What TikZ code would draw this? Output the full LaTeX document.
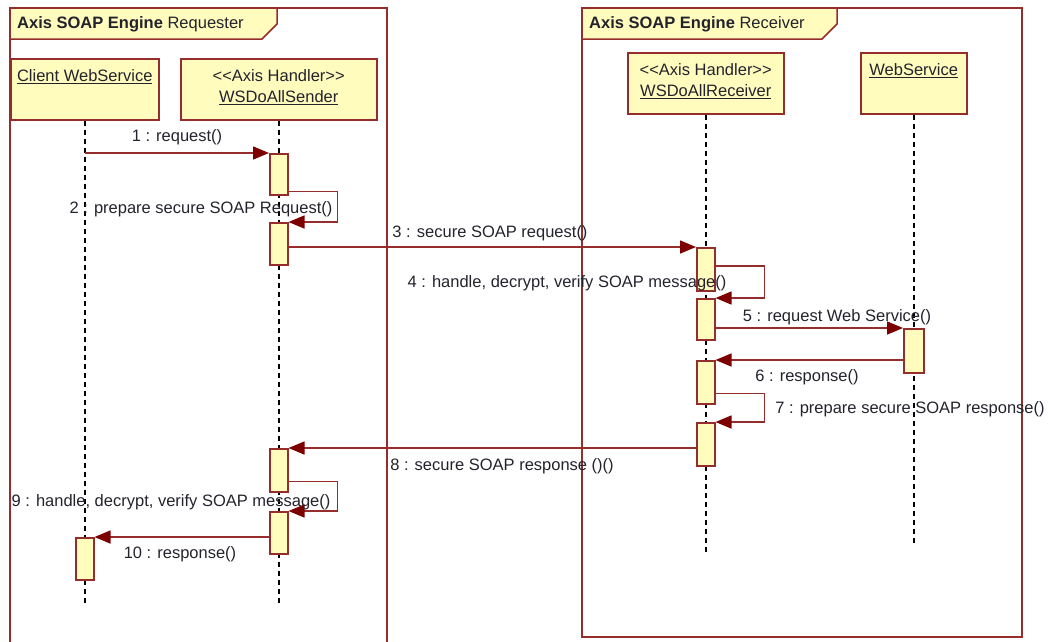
\documentclass[tikz,border=0pt]{standalone}
\usepackage{fontspec}
\newfontfamily\umlfont{Liberation Sans}
\usetikzlibrary{arrows.meta,calc}
\definecolor{umlred}{RGB}{150,45,45}
\definecolor{tipred}{RGB}{125,0,0}
\definecolor{umlfill}{RGB}{255,252,190}
\definecolor{txt}{RGB}{35,35,45}
\begin{document}
\begin{tikzpicture}[x=1pt,y=-1pt,
  font=\umlfont\fontsize{16.5}{21}\selectfont,
  frameline/.style={draw=umlred,line width=1.5pt},
  tabshape/.style={draw=umlred,fill=umlfill,line width=1.5pt},
  headbox/.style={draw=umlred,fill=umlfill,line width=1.5pt,rectangle,inner sep=0pt,anchor=north west},
  headtext/.style={text=txt,align=center,anchor=north,inner sep=0pt},
  actbox/.style={draw=umlred,fill=umlfill,line width=1.5pt,rectangle,inner sep=0pt,minimum width=18pt,anchor=north},
  lifeline/.style={draw=black,line width=1.6pt,dash pattern=on 5pt off 4pt},
  msg/.style={draw=umlred,line width=1.5pt,-{Triangle[length=16pt,width=13pt,fill=tipred,color=tipred]}},
  lbl/.style={text=txt,inner sep=0pt}]
\useasboundingbox (0,0) rectangle (1051,641);
\clip (0,0) rectangle (1051,641);
% frames
\draw[frameline] (10,660) -- (10,8) -- (387,8) -- (387,660);
\draw[frameline] (582,8) rectangle (1022,637);
\draw[tabshape] (10,8) -- (277,8) -- (277,24) -- (262,39) -- (10,39) -- cycle;
\draw[tabshape] (582,8) -- (837,8) -- (837,24) -- (822,39) -- (582,39) -- cycle;
\node[lbl,anchor=west] (tabL) at (17,24) {\bfseries Axis SOAP Engine\mdseries\ Requester};
\node[lbl,anchor=west] (tabR) at (589,24) {\bfseries Axis SOAP Engine\mdseries\ Receiver};
% heads
\node[headbox,minimum width=148pt,minimum height=61pt] (client) at (10,58) {};
\node[headbox,minimum width=196pt,minimum height=61pt] (sender) at (180,58) {};
\node[headbox,minimum width=156pt,minimum height=61pt] (recv) at (627,52) {};
\node[headbox,minimum width=106pt,minimum height=61pt] (ws) at (860,52) {};
\node[headtext] (clientT) at ($(client.north)+(0,11)$) {\underline{Client WebService}};
\node[headtext] (senderT) at ($(sender.north)+(0,11)$) {{<}{<}Axis Handler{>}{>}\\\underline{WSDoAllSender}};
\node[headtext] (recvT) at ($(recv.north)+(0,11)$) {{<}{<}Axis Handler{>}{>}\\\underline{WSDoAllReceiver}};
\node[headtext] (wsT) at ($(ws.north)+(0,11)$) {\underline{WebService}};
% lifeline ends
\coordinate (clientEnd) at (client.south |- 0,606);
\coordinate (senderEnd) at (sender.south |- 0,606);
\coordinate (recvEnd) at (recv.south |- 0,552);
\coordinate (wsEnd) at (ws.south |- 0,544);
\draw[lifeline] (client.south) -- (clientEnd);
\draw[lifeline] (sender.south) -- (senderEnd);
\draw[lifeline] (recv.south) -- (recvEnd);
\draw[lifeline] (ws.south) -- (wsEnd);
% activations
\node[actbox,minimum height=41pt] (s1) at (sender.south |- 0,153) {};
\node[actbox,minimum height=42pt] (s2) at (sender.south |- 0,222) {};
\node[actbox,minimum height=43pt] (sE) at (sender.south |- 0,448) {};
\node[actbox,minimum height=42pt] (sF) at (sender.south |- 0,511) {};
\node[actbox,minimum height=42pt] (cA) at (client.south |- 0,537) {};
\node[actbox,minimum height=43pt] (r1) at (recv.south |- 0,247) {};
\node[actbox,minimum height=41pt] (r2) at (recv.south |- 0,298) {};
\node[actbox,minimum height=43pt] (r3) at (recv.south |- 0,360) {};
\node[actbox,minimum height=43pt] (r4) at (recv.south |- 0,422) {};
\node[actbox,minimum height=44pt,minimum width=20pt] (w1) at (ws.south |- 0,328) {};
% messages
\draw[msg] (client.south |- s1.north west) -- (s1.north west);
\draw[msg] ($(s1.south east)+(0,-4)$) -- ++(49,0) |- (s2.north east);
\draw[msg] (s2.east |- r1.north west) -- (r1.north west);
\draw[msg] ($(r1.north east)+(0,19)$) -- ++(49,0) |- (r2.north east);
\draw[msg] (r2.east |- w1.north west) -- (w1.north west);
\draw[msg] ($(w1.north west)+(0,32)$) -- (r3.north east);
\draw[msg] ($(r3.south east)+(0,-11)$) -- ++(49,0) |- (r4.north east);
\draw[msg] ($(r4.north west)+(0,26)$) -- (sE.north east);
\draw[msg] ($(sE.south east)+(0,-11)$) -- ++(49,0) |- (sF.north east);
\draw[msg] ($(sF.north west)+(0,26)$) -- (cA.north east);
% labels
\node[lbl] (m1) at (177,137) {1 : request()};
\node[lbl] (m2) at (201,209) {2 : prepare secure SOAP Request()};
\node[lbl] (m3) at (490,233) {3 : secure SOAP request()};
\node[lbl] (m4) at (567,283) {4 : handle, decrypt, verify SOAP message()};
\node[lbl] (m5) at (837,317) {5 : request Web Service()};
\node[lbl] (m6) at (807,377) {6 : response()};
\node[lbl] (m7) at (910,409) {7 : prepare secure SOAP response()};
\node[lbl] (m8) at (502,466) {8 : secure SOAP response ()()};
\node[lbl] (m9) at (171,502) {9 : handle, decrypt, verify SOAP message()};
\node[lbl] (m10) at (180,554) {10 : response()};
\end{tikzpicture}
\end{document}
